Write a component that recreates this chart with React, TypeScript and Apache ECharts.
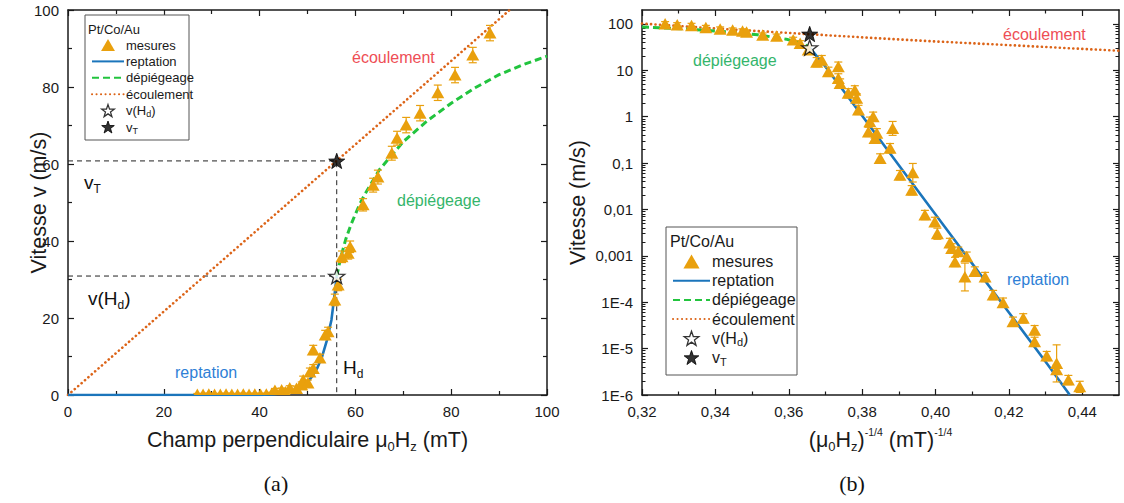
import React, { useEffect, useRef } from 'react';
import * as echarts from 'echarts';

const FONT = '"Liberation Sans", Arial, Helvetica, sans-serif';
const SERIF = '"Liberation Serif", "DejaVu Serif", serif';
const AX = '#1a1a1a';
const C_MES = '#E9A00D';
const C_REP = '#1B75BB';
const C_DEP = '#22C43E';
const C_ECO = '#DC6418';
const C_LBL_ECO = '#EE4E55';
const C_LBL_DEP = '#34B56B';
const C_LBL_REP = '#2E7FD6';

// ---------- (a) linear plot ----------
const measA_H = [27.0, 28.2, 29.4, 30.6, 31.8, 33.0, 34.2, 35.4, 36.6, 37.8, 39.0, 40.2, 41.4,
  42.5, 43.2, 44.6, 45.4, 46.3, 47.7, 48.8, 49.1, 50.1, 50.5, 51.2, 51.2, 52.6, 53.7, 54.3, 55.7,
  56.4, 57.2, 58.5, 58.9, 61.6, 63.7, 64.7, 67.6, 68.7, 70.6, 73.5, 77.2, 80.8, 84.5, 88.1];
const measA_v = [0.1, 0.1, 0.2, 0.1, 0.1, 0.2, 0.1, 0.1, 0.2, 0.1, 0.2, 0.1, 0.2,
  0.3, 1.2, 1.3, 0.8, 1.8, 1.7, 2.6, 3.9, 3.1, 6.0, 6.9, 11.7, 9.6, 15.6, 16.4, 24.7,
  28.6, 35.9, 36.8, 38.5, 49.4, 54.5, 56.6, 62.8, 66.7, 70.1, 73.2, 78.5, 83.1, 88.3, 94.0];
const measA_err = [0.3, 0.3, 0.3, 0.3, 0.3, 0.3, 0.3, 0.3, 0.3, 0.3, 0.3, 0.3, 0.3,
  0.4, 0.5, 0.5, 0.4, 0.6, 0.6, 0.8, 1.0, 0.8, 1.0, 1.0, 1.2, 1.0, 1.2, 1.2, 1.5,
  1.5, 1.5, 1.5, 1.5, 1.6, 1.8, 1.8, 1.8, 1.8, 2.0, 2.0, 2.0, 2.0, 2.0, 2.0];

const reptA_H = [0, 40, 43, 45, 47, 48.5, 50, 51, 52, 53, 54, 55, 55.5, 56.1];
const reptA_v = [0, 0, 0.2, 0.5, 1.0, 1.8, 3.3, 4.9, 6.9, 9.8, 14.0, 19.5, 24.5, 30.9];

const depA_H = [56.1, 57, 58, 59, 60, 61, 62, 65, 70, 75, 80, 85, 90, 95, 100];
const depA_v = [30.9, 36, 40.5, 44, 47, 49.8, 52.2, 58.5, 65.8, 71.2, 75.8, 79.8, 83.2, 85.8, 88];

const ecoA_H = [0, 92.2];
const ecoA_v = [0, 100];

const H_d = 56.1;
const v_Hd = 30.9;
const v_T = 60.8;

// ---------- (b) log plot, x = (mu0 Hz)^(-1/4) ----------
const measB_x = [0.3263, 0.3296, 0.3335, 0.3374, 0.3413, 0.3447, 0.3474, 0.3485, 0.3529, 0.3567,
  0.3612, 0.3631, 0.3653, 0.3676, 0.369, 0.3708, 0.3735, 0.3735, 0.374, 0.3762,
  0.378, 0.3785, 0.379, 0.3817, 0.3821, 0.383, 0.3835, 0.384, 0.3849, 0.3876,
  0.3883, 0.3903, 0.3935, 0.3938, 0.3971, 0.3998, 0.4005, 0.4039, 0.4044, 0.4053,
  0.4062, 0.408, 0.4085, 0.4107, 0.4135, 0.4157, 0.4184, 0.4211, 0.4239, 0.427,
  0.427, 0.4303, 0.433, 0.433, 0.4362, 0.4393];
const measB_v = [100, 95, 92, 83, 77, 73, 70, 66, 57, 54,
  45, 38, 27.5, 15, 16.6, 9.3, 12, 6.7, 5.2, 3.2,
  3.7, 2.5, 1.4, 0.47, 0.78, 1.0, 0.34, 0.44, 0.126, 0.21,
  0.56, 0.055, 0.026, 0.062, 0.0076, 0.0054, 0.003, 0.0019, 0.00145, 0.00074,
  0.00123, 0.00035, 0.00096, 0.00046, 0.00035, 1.43e-4, 9.8e-5, 3.8e-5, 4.5e-5, 2.5e-5,
  1.4e-5, 6.9e-6, 4.8e-6, 3.5e-6, 2.1e-6, 1.5e-6];
const measB_errDec = [0.05, 0.05, 0.05, 0.05, 0.05, 0.05, 0.05, 0.05, 0.05, 0.05,
  0.06, 0.06, 0.08, 0.1, 0.1, 0.1, 0.1, 0.1, 0.1, 0.1,
  0.1, 0.1, 0.1, 0.1, 0.1, 0.1, 0.1, 0.1, 0.1, 0.1,
  0.15, 0.1, 0.1, 0.2, 0.1, 0.1, 0.12, 0.1, 0.1, 0.1,
  0.1, 0.3, 0.1, 0.1, 0.1, 0.1, 0.1, 0.1, 0.1, 0.1,
  0.1, 0.1, 0.4, 0.1, 0.1, 0.12];

const reptB_x = [0.3657, 0.37, 0.38, 0.39, 0.40, 0.41, 0.42, 0.43, 0.4366];
const reptB_v = [30.9, 12, 1.05, 0.09, 0.0078, 6.8e-4, 6e-5, 5.2e-6, 1e-6];

const depB_x = [0.32, 0.3246, 0.3344, 0.3454, 0.3515, 0.3593, 0.3625, 0.3644, 0.3657];
const depB_v = [86, 83.2, 75.8, 65.8, 58.5, 47, 40.5, 36, 30.9];

const ecoB_x = [0.32, 0.34, 0.36, 0.38, 0.40, 0.42, 0.44, 0.45];
const ecoB_v = [102, 80, 64, 51.5, 42, 35, 29, 26.5];

const x_d = 0.3657;

// tick labels
const xTickLabelsB = ['0,32', '0,34', '0,36', '0,38', '0,40', '0,42', '0,44'];
const xTickValsB = [0.32, 0.34, 0.36, 0.38, 0.40, 0.42, 0.44];
const xMinorValsB = [0.33, 0.35, 0.37, 0.39, 0.41, 0.43];
const yTickLabelsB = ['1E-6', '1E-5', '1E-4', '0,001', '0,01', '0,1', '1', '10', '100'];
const yTickExpB = [-6, -5, -4, -3, -2, -1, 0, 1, 2];
const Y_MAX_B = 200;

const STAR = 'path://M50,2 L61.8,36 L97.6,36.7 L69.1,58.4 L79.4,92.7 L50,72.2 L20.6,92.7 L30.9,58.4 L2.4,36.7 L38.2,36 Z';
const TRI = 'path://M6,0 L12,10.4 L0,10.4 Z';

const LOGMAX = Math.log10(Y_MAX_B);
const yMinorB: number[] = [];
for (const e of yTickExpB) {
  for (let k = 2; k <= 9; k++) {
    const v = e + Math.log10(k);
    if (v < LOGMAX - 1e-6) yMinorB.push(v);
  }
}

const zip = (a: number[], b: number[]) => a.map((x, i) => [x, b[i]]);
const zipLog = (a: number[], b: number[]) => a.map((x, i) => [x, Math.log10(b[i])]);

function errTriRender(params: any, api: any) {
  const x = api.value(0), y = api.value(1), lo = api.value(2), hi = api.value(3);
  const c = api.coord([x, y]);
  const a = api.coord([x, lo]);
  const b = api.coord([x, hi]);
  const cap = 4;
  const ls = { stroke: C_MES, lineWidth: 1.2 };
  return {
    type: 'group',
    children: [
      { type: 'line', shape: { x1: a[0], y1: a[1], x2: b[0], y2: b[1] }, style: ls },
      { type: 'line', shape: { x1: a[0] - cap, y1: a[1], x2: a[0] + cap, y2: a[1] }, style: ls },
      { type: 'line', shape: { x1: b[0] - cap, y1: b[1], x2: b[0] + cap, y2: b[1] }, style: ls },
      {
        type: 'polygon',
        shape: { points: [[c[0], c[1] - 6], [c[0] - 6.5, c[1] + 5.5], [c[0] + 6.5, c[1] + 5.5]] },
        style: { fill: C_MES },
      },
    ],
  };
}

const NAME_FS = 21.5;
const tickLbl = { fontSize: 15, color: AX, fontFamily: FONT };
const axLine = { show: true, onZero: false, lineStyle: { color: AX, width: 1.5 } };
const noLine = { show: false, onZero: false };
const tickMaj = { show: true, inside: true, length: 6, lineStyle: { color: AX, width: 1.2 } };
const subRich = {
  s: { fontSize: 13, lineHeight: 13, verticalAlign: 'bottom', fontFamily: FONT, color: AX },
  p: { fontSize: 10.5, lineHeight: 10.5, verticalAlign: 'top', fontFamily: FONT, color: AX },
};
const nameStyle = { fontSize: NAME_FS, fontFamily: FONT, color: AX, lineHeight: 27, rich: subRich };

function linAxisA(pos: string, withLabel: boolean, extra: any = {}) {
  return {
    type: 'value', gridIndex: 0, position: pos, min: 0, max: 100, interval: 20,
    axisLine: axLine,
    axisTick: tickMaj,
    minorTick: { show: true, splitNumber: 2, length: 4, lineStyle: { color: AX, width: 1.2 } },
    splitLine: { show: false }, minorSplitLine: { show: false },
    axisLabel: withLabel ? { ...tickLbl, margin: 9 } : { show: false },
    ...extra,
  };
}

function buildOption(): any {
  const xAxis = [
    linAxisA('bottom', true, {
      name: 'Champ perpendiculaire μ{s|0}H{s|z} (mT)', nameLocation: 'middle', nameGap: 31,
      nameTextStyle: nameStyle,
    }),
    linAxisA('top', false),
    {
      type: 'value', gridIndex: 1, position: 'bottom', min: 0.32, max: 0.45,
      axisLine: axLine,
      axisTick: { ...tickMaj, customValues: xTickValsB },
      axisLabel: {
        ...tickLbl, margin: 9, customValues: xTickValsB,
        formatter: (v: number) => xTickLabelsB[xTickValsB.findIndex((t) => Math.abs(t - v) < 1e-6)] ?? '',
      },
      splitLine: { show: false },
      name: '(μ{s|0}H{s|z}){p|-1/4} (mT){p|-1/4}', nameLocation: 'middle', nameGap: 31,
      nameTextStyle: nameStyle,
    },
    {
      type: 'value', gridIndex: 1, position: 'bottom', min: 0.32, max: 0.45,
      axisLine: noLine,
      axisTick: { show: true, inside: true, length: 3.5, lineStyle: { color: AX, width: 1.2 }, customValues: xMinorValsB },
      axisLabel: { show: false }, splitLine: { show: false },
    },
    {
      type: 'value', gridIndex: 1, position: 'top', min: 0.32, max: 0.45,
      axisLine: axLine,
      axisTick: { ...tickMaj, customValues: xTickValsB },
      axisLabel: { show: false }, splitLine: { show: false },
    },
    {
      type: 'value', gridIndex: 1, position: 'top', min: 0.32, max: 0.45,
      axisLine: noLine,
      axisTick: { show: true, inside: true, length: 3.5, lineStyle: { color: AX, width: 1.2 }, customValues: xMinorValsB },
      axisLabel: { show: false }, splitLine: { show: false },
    },
  ];

  const yAxis = [
    linAxisA('left', true, {
      name: 'Vitesse v (m/s)', nameLocation: 'middle', nameGap: 18, nameMoveOverlap: false,
      nameTextStyle: { fontSize: NAME_FS, fontFamily: FONT, color: AX },
    }),
    linAxisA('right', false),
    {
      type: 'value', gridIndex: 1, position: 'left', min: -6, max: LOGMAX,
      axisLine: axLine,
      axisTick: { ...tickMaj, customValues: yTickExpB },
      axisLabel: {
        ...tickLbl, margin: 9, customValues: yTickExpB,
        formatter: (v: number) => yTickLabelsB[Math.round(v) + 6] ?? '',
      },
      splitLine: { show: false },
      name: 'Vitesse (m/s)', nameLocation: 'middle', nameGap: 53, nameMoveOverlap: false,
      nameTextStyle: { fontSize: NAME_FS, fontFamily: FONT, color: AX },
    },
    {
      type: 'value', gridIndex: 1, position: 'left', min: -6, max: LOGMAX,
      axisLine: noLine,
      axisTick: { show: true, inside: true, length: 3.5, lineStyle: { color: AX, width: 1 }, customValues: yMinorB },
      axisLabel: { show: false }, splitLine: { show: false },
    },
    {
      type: 'value', gridIndex: 1, position: 'right', min: -6, max: LOGMAX,
      axisLine: axLine,
      axisTick: { ...tickMaj, customValues: yTickExpB },
      axisLabel: { show: false }, splitLine: { show: false },
    },
    {
      type: 'value', gridIndex: 1, position: 'right', min: -6, max: LOGMAX,
      axisLine: noLine,
      axisTick: { show: true, inside: true, length: 3.5, lineStyle: { color: AX, width: 1 }, customValues: yMinorB },
      axisLabel: { show: false }, splitLine: { show: false },
    },
  ];

  const lineSeries = (name: string, data: number[][], color: string, type: any, width: number, xi: number, yi: number, z = 3, cap = 'butt') => ({
    type: 'line', name, data, xAxisIndex: xi, yAxisIndex: yi, symbol: 'none', clip: true, z,
    lineStyle: { color, type, width, cap }, itemStyle: { color }, silent: true,
  });

  const starSeries = (name: string, data: number[][], filled: boolean, xi: number, yi: number) => ({
    type: 'scatter', name, data, xAxisIndex: xi, yAxisIndex: yi, symbol: STAR, symbolSize: 16, symbolKeepAspect: true, z: 6,
    itemStyle: filled ? { color: '#000', borderColor: '#000', borderWidth: 1 } : { color: '#fff', borderColor: '#000', borderWidth: 1.3 },
    silent: true,
  });

  const mesA = measA_H.map((h, i) => [h, measA_v[i], measA_v[i] - measA_err[i], measA_v[i] + measA_err[i]]);
  const mesB = measB_x.map((x, i) => {
    const l = Math.log10(measB_v[i]);
    return [x, l, l - measB_errDec[i], l + measB_errDec[i]];
  });

  const mesSeries = (data: number[][], xi: number, yi: number) => ({
    type: 'custom', name: 'mesures', data, xAxisIndex: xi, yAxisIndex: yi, clip: true, z: 4,
    encode: { x: 0, y: 1 }, renderItem: errTriRender, itemStyle: { color: C_MES }, silent: true,
  });

  const DOT = [0.1, 4.4];
  const DASH = [7, 4];

  const series = [
    lineSeries('refT', [[0, v_T], [H_d, v_T], [H_d, 0]], '#222', [5, 4], 1, 0, 0, 2),
    lineSeries('refHd', [[0, v_Hd], [H_d, v_Hd]], '#222', [5, 4], 1, 0, 0, 2),
    lineSeries('écoulement', zip(ecoA_H, ecoA_v), C_ECO, DOT, 2.6, 0, 0, 3, 'round'),
    lineSeries('reptation', zip(reptA_H, reptA_v), C_REP, 'solid', 2.6, 0, 0),
    lineSeries('dépiégeage', zip(depA_H, depA_v), C_DEP, DASH, 3, 0, 0),
    mesSeries(mesA, 0, 0),
    starSeries('vHd', [[H_d, v_Hd]], false, 0, 0),
    starSeries('vT', [[H_d, v_T]], true, 0, 0),

    lineSeries('écoulement', zipLog(ecoB_x, ecoB_v), C_ECO, DOT, 2.6, 2, 2, 3, 'round'),
    lineSeries('reptation', zipLog(reptB_x, reptB_v), C_REP, 'solid', 2.6, 2, 2),
    lineSeries('dépiégeage', zipLog(depB_x, depB_v), C_DEP, DASH, 3, 2, 2),
    mesSeries(mesB, 2, 2),
    starSeries('vHd', [[x_d, Math.log10(v_Hd)]], false, 2, 2),
    starSeries('vT', [[x_d, Math.log10(v_T)]], true, 2, 2),
  ];

  const hideSym = { opacity: 0 };
  const legendData = [
    { name: 'mesures', icon: TRI, itemStyle: { color: C_MES } },
    { name: 'reptation', itemStyle: hideSym },
    { name: 'dépiégeage', itemStyle: hideSym },
    { name: 'écoulement', itemStyle: hideSym },
    { name: 'vHd', icon: STAR, itemStyle: { color: '#fff', borderColor: '#000', borderWidth: 1.3 } },
    { name: 'vT', icon: STAR, itemStyle: { color: '#000', borderColor: '#000', borderWidth: 1 } },
  ];
  const legendFmt = (n: string) => (n === 'vHd' ? 'v(H{s|d})' : n === 'vT' ? 'v{s|T}' : n);

  const legend = [
    {
      orient: 'vertical', left: 86, top: 32, itemWidth: 32, itemHeight: 12, itemGap: 0.4,
      data: legendData, formatter: legendFmt, selectedMode: false, symbolKeepAspect: true,
      textStyle: {
        fontSize: 13, fontFamily: FONT, color: AX, lineHeight: 16, padding: [0, 0, 0, -3],
        rich: { s: { fontSize: 9, lineHeight: 9, verticalAlign: 'bottom', fontFamily: FONT, color: AX } },
      },
    },
    {
      orient: 'vertical', left: 667, top: 247, itemWidth: 37, itemHeight: 14, itemGap: 0.2,
      data: legendData, formatter: legendFmt, selectedMode: false, symbolKeepAspect: true,
      textStyle: {
        fontSize: 16, fontFamily: FONT, color: AX, lineHeight: 19, padding: [0, 0, 0, -3],
        rich: { s: { fontSize: 11, lineHeight: 11, verticalAlign: 'bottom', fontFamily: FONT, color: AX } },
      },
    },
  ];

  const txt = (text: string, x: number, y: number, size: number, fill: string, extra: any = {}) => ({
    type: 'text', x, y, z: 10,
    style: { text, fontSize: size, fontFamily: FONT, fill, align: 'left', verticalAlign: 'middle', ...extra },
  });
  const annRich = (size: number) => ({
    lineHeight: size + 6,
    rich: { s: { fontSize: Math.round(size * 0.62), lineHeight: Math.round(size * 0.62), verticalAlign: 'bottom', fontFamily: FONT, fill: '#111' } },
  });

  const graphic = [
    { type: 'rect', z: 3, shape: { x: 85, y: 15, width: 104, height: 125 }, style: { fill: '#fff', stroke: '#555', lineWidth: 1 } },
    txt('Pt/Co/Au', 88, 29, 13, AX),
    { type: 'rect', z: 3, shape: { x: 666, y: 227, width: 131, height: 148 }, style: { fill: '#fff', stroke: '#555', lineWidth: 1 } },
    txt('Pt/Co/Au', 670, 241, 16, AX),

    txt('écoulement', 352, 57, 16, C_LBL_ECO),
    txt('dépiégeage', 397, 200, 16, C_LBL_DEP),
    txt('reptation', 175, 372, 16, C_LBL_REP),
    txt('v{s|T}', 84, 182, 19, '#111', annRich(19)),
    txt('v(H{s|d})', 88, 298, 19, '#111', annRich(19)),
    txt('H{s|d}', 343, 367, 19, '#111', annRich(19)),

    txt('écoulement', 1003, 34, 16, C_LBL_ECO),
    txt('dépiégeage', 693, 60, 16, C_LBL_DEP),
    txt('reptation', 1007, 279, 16, C_LBL_REP),

    { type: 'text', x: 276, y: 483, z: 10, style: { text: '(a)', fontSize: 22, fontFamily: SERIF, fill: '#111', align: 'center', verticalAlign: 'middle' } },
    { type: 'text', x: 852, y: 483, z: 10, style: { text: '(b)', fontSize: 22, fontFamily: SERIF, fill: '#111', align: 'center', verticalAlign: 'middle' } },
  ];

  return {
    animation: false,
    backgroundColor: '#fff',
    textStyle: { fontFamily: FONT },
    grid: [
      { left: 68, top: 10, width: 479, height: 385 },
      { left: 642, top: 10, width: 477, height: 385 },
    ],
    xAxis, yAxis, legend, graphic, series,
  };
}

export default function App() {
  const ref = useRef<HTMLDivElement>(null);
  useEffect(() => {
    const chart = echarts.init(ref.current!, null, { renderer: 'svg' });
    chart.setOption(buildOption());
    return () => chart.dispose();
  }, []);
  return (
    <div
      ref={ref}
      style={{ position: 'absolute', left: 0, top: 0, width: 1124, height: 503, background: '#fff' }}
    />
  );
}
